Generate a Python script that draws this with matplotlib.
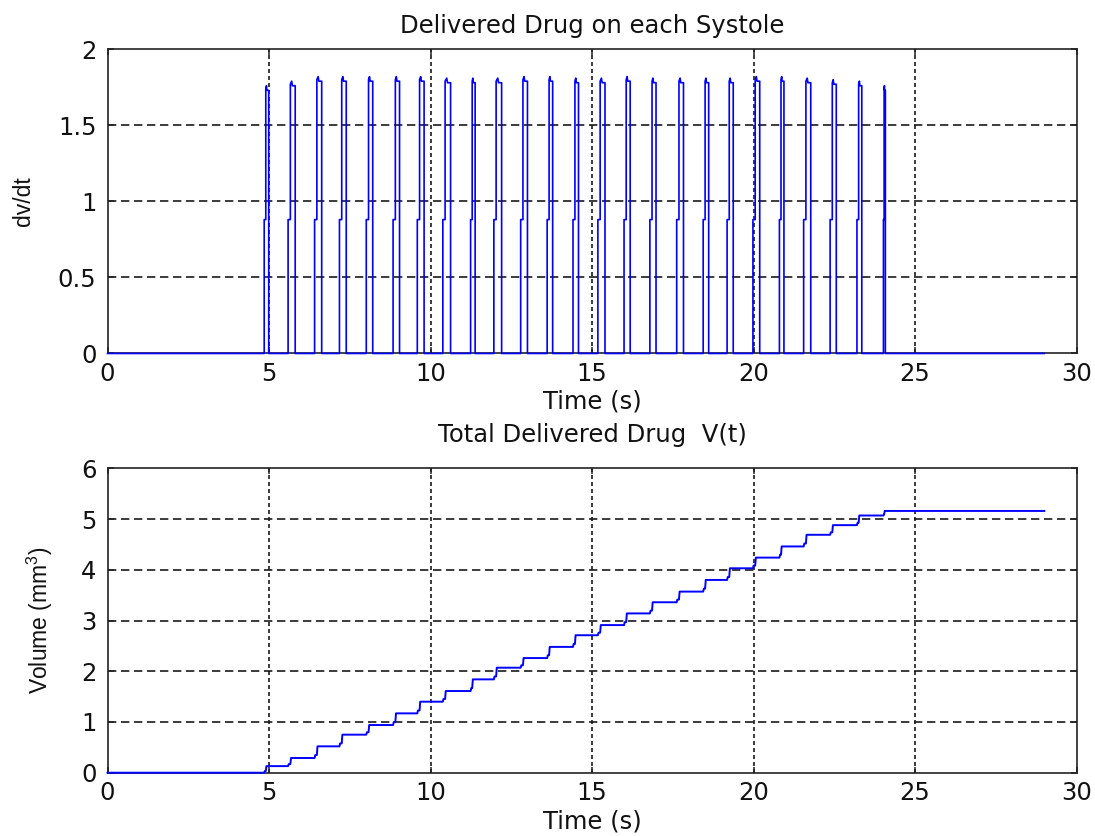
import numpy as np
import matplotlib
matplotlib.use('Agg')
import matplotlib.pyplot as plt

plt.rcParams['font.family'] = ['DejaVu Sans']
plt.rcParams['mathtext.fontset'] = 'custom'
plt.rcParams['mathtext.rm'] = 'Liberation Sans'
plt.rcParams['mathtext.default'] = 'regular'

# onset time of each systolic pulse (s)
pulse_onsets = [4.85, 5.59, 6.41, 7.18, 8.01, 8.84, 9.59, 10.38, 11.24, 11.96,
                12.79, 13.61, 14.41, 15.18, 15.99, 16.79, 17.62, 18.44, 19.18,
                19.98, 20.80, 21.55, 22.37, 23.20, 24.02]
# pulse duration (s)
pulse_widths = [0.14, 0.22, 0.22, 0.21, 0.20, 0.20, 0.21, 0.24, 0.14, 0.24,
                0.21, 0.17, 0.17, 0.22, 0.19, 0.19, 0.21, 0.17, 0.19, 0.21,
                0.14, 0.22, 0.19, 0.15, 0.06]
# peak flow rate of each pulse
pulse_peaks = [1.76, 1.79, 1.82, 1.82, 1.82, 1.82, 1.82, 1.81, 1.81, 1.81,
               1.82, 1.82, 1.81, 1.81, 1.82, 1.81, 1.81, 1.81, 1.81, 1.82,
               1.82, 1.81, 1.80, 1.79, 1.76]
pre_level = 0.88        # first plateau of each pulse
# cumulative volume after each pulse (mm^3)
volume_levels = [0.13, 0.29, 0.52, 0.75, 0.94, 1.17, 1.40, 1.61, 1.84, 2.07,
                 2.26, 2.48, 2.71, 2.91, 3.14, 3.36, 3.57, 3.80, 4.03, 4.24,
                 4.46, 4.69, 4.88, 5.07, 5.16]
t_end = 29.0

# build the dv/dt trace
t_rate = [0.0]
rate = [0.0]
for t0, w, pk in zip(pulse_onsets, pulse_widths, pulse_peaks):
    rise = min(0.07, 0.35 * w)
    t_rate += [t0, t0, t0 + rise, t0 + rise, t0 + 0.5 * w, t0 + 0.6 * w, t0 + w, t0 + w]
    rate += [0, pre_level, pre_level, pk - 0.02, pk, pk - 0.03, pk - 0.03, 0]
t_rate.append(t_end)
rate.append(0.0)

# build the V(t) staircase
t_vol = [0.0]
vol = [0.0]
prev = 0.0
for t0, w, lv in zip(pulse_onsets, pulse_widths, volume_levels):
    rise = min(0.07, 0.35 * w)
    t_vol += [t0, t0 + 0.02, t0 + rise, t0 + rise + 0.02, t0 + w]
    vol += [prev, prev + 0.25 * (lv - prev), prev + 0.25 * (lv - prev), lv, lv]
    prev = lv
t_vol.append(t_end)
vol.append(prev)

fig = plt.figure(figsize=(10.95, 8.36), dpi=100)
ax1 = fig.add_axes([0.0982, 0.5772, 0.885, 0.3639])
ax2 = fig.add_axes([0.0982, 0.0757, 0.885, 0.3641])

fs = 17.5
lab_font = {'family': 'Liberation Sans', 'size': 16.5}

def style(ax, ymax, yticks, yticklabels):
    ax.set_xlim(0, 30)
    ax.set_ylim(0, ymax)
    ax.set_xticks([0, 5, 10, 15, 20, 25, 30])
    ax.set_yticks(yticks)
    ax.set_yticklabels(yticklabels)
    ax.tick_params(direction='in', length=4, width=1.1, top=True, right=True,
                   labelsize=fs, colors='#222222', labelcolor='#111111')
    ax.tick_params(axis='x', pad=6)
    ax.tick_params(axis='y', pad=8)
    for s in ax.spines.values():
        s.set_linewidth(1.2)
        s.set_color('#222222')
    for x in [5, 10, 15, 20, 25]:
        ax.axvline(x, color='#1a1a1a', lw=1.2, dashes=(2.4, 1.8), zorder=1)
    for y in yticks[1:-1]:
        ax.axhline(y, color='#1a1a1a', lw=1.2, dashes=(5.0, 2.8), zorder=1)

style(ax1, 2, [0, 0.5, 1, 1.5, 2], ['0', '0.5', '1', '1.5', '2'])
style(ax2, 6, [0, 1, 2, 3, 4, 5, 6], ['0', '1', '2', '3', '4', '5', '6'])

ax1.plot(t_rate, rate, color='#0000ff', lw=1.2, zorder=3, clip_on=False)
ax2.plot(t_vol, vol, color='#0000ff', lw=1.4, zorder=3, clip_on=False)

ax1.set_title('Delivered Drug on each Systole', fontsize=fs, pad=12, color='#111111')
ax1.set_xlabel('Time (s)', fontsize=fs, labelpad=3, color='#111111')
ax1.set_ylabel('dv/dt', fontdict=lab_font, color='#111111')
ax1.yaxis.set_label_coords(-0.075, 0.5)

ax2.set_title('Total Delivered Drug  V(t)', fontsize=fs, pad=19, color='#111111')
ax2.set_xlabel('Time (s)', fontsize=fs, labelpad=3, color='#111111')
ax2.set_ylabel('Volume (mm$^3$)', fontdict=lab_font, color='#111111')
ax2.yaxis.set_label_coords(-0.054, 0.5)

fig.savefig('out.png', dpi=100, facecolor='white')
